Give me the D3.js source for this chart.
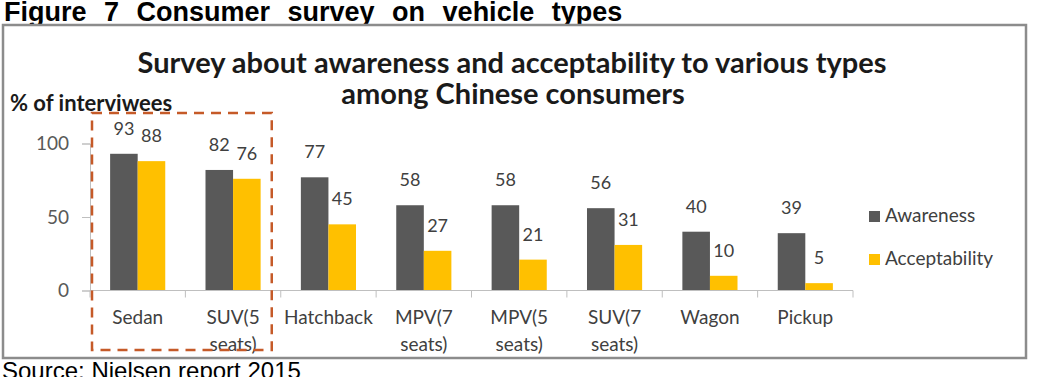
<!DOCTYPE html>
<html>
<head>
<meta charset="utf-8">
<script src="https://cdn.jsdelivr.net/npm/d3@7"></script>
<style>
  body { margin: 0; background: #fff; }
  text { font-family: Lato, "Open Sans", sans-serif; }
</style>
</head>
<body>
<div id="graphic"></div>
<script>
// data
const categories = ["Sedan", "SUV(5 seats)", "Hatchback", "MPV(7 seats)", "MPV(5 seats)", "SUV(7 seats)", "Wagon", "Pickup"];
const awareness = [93, 82, 77, 58, 58, 56, 40, 39];
const acceptability = [88, 76, 45, 27, 21, 31, 10, 5];
const seriesNames = ["Awareness", "Acceptability"];
const yTicks = [0, 50, 100];

const colors = {Awareness: "#595959", Acceptability: "#ffc000"};

const width = 1039, height = 377;

var svg = d3.select("#graphic").append("svg")
        .attr("width", width)
        .attr("height", height);

// figure heading + frame
svg.append("text")
        .attr("x", 4)
        .attr("y", 21)
        .style("font-family", "'Liberation Sans', Arial, sans-serif")
        .style("font-weight", "bold")
        .style("font-size", "27px")
        .style("word-spacing", "10px")
        .text("Figure 7 Consumer survey on vehicle types");

svg.append("rect")
        .attr("x", 3)
        .attr("y", 25)
        .attr("width", 1023)
        .attr("height", 333)
        .style("fill", "white")
        .style("stroke", "#8c8c8c")
        .style("stroke-width", 2.5);

svg.append("text")
        .attr("x", 2)
        .attr("y", 379)
        .style("font-family", "'Liberation Sans', Arial, sans-serif")
        .style("font-size", "24px")
        .text("Source: Nielsen report 2015");

// chart title
var title = svg.append("text")
        .attr("text-anchor", "middle")
        .style("font-weight", "bold")
        .style("font-size", "29px")
        .style("fill", "#1a1a1a");
title.append("tspan").attr("x", 512).attr("y", 73)
        .text("Survey about awareness and acceptability to various types");
title.append("tspan").attr("x", 513).attr("y", 104)
        .text("among Chinese consumers");

svg.append("text")
        .attr("x", 10)
        .attr("y", 111)
        .style("font-weight", "bold")
        .style("font-size", "22px")
        .style("fill", "#1a1a1a")
        .text("% of interviwees");

// scales
var x0 = d3.scaleBand()
        .domain(categories)
        .range([90, 853]);

var x1 = d3.scaleBand()
        .domain(seriesNames)
        .range([0, x0.bandwidth()])
        .paddingOuter(0.73);

var y = d3.scaleLinear()
        .domain([0, 100])
        .range([290.5, 143.5]);

// y axis
var yAxis = svg.append("g")
        .attr("transform", "translate(90,0)")
        .call(d3.axisLeft(y).tickValues(yTicks).tickSize(8).tickPadding(13));
yAxis.select(".domain").attr("stroke", "#bfbfbf");
yAxis.selectAll(".tick line").attr("stroke", "#bfbfbf");
yAxis.selectAll(".tick text")
        .style("font-family", "Lato, sans-serif")
        .style("font-size", "19px")
        .attr("fill", "#595959");

// bars
var rows = categories.map((c, i) => ({cat: c, Awareness: awareness[i], Acceptability: acceptability[i]}));

var groups = svg.append("g").selectAll("g")
        .data(rows)
        .join("g")
        .attr("transform", d => "translate(" + x0(d.cat) + ",0)");

groups.selectAll("rect")
        .data(d => seriesNames.map(k => ({key: k, value: d[k]})))
        .join("rect")
        .attr("x", d => x1(d.key))
        .attr("y", d => y(d.value))
        .attr("width", x1.bandwidth())
        .attr("height", d => y(0) - y(d.value))
        .style("fill", d => colors[d.key]);

groups.selectAll("text")
        .data(d => seriesNames.map(k => ({key: k, value: d[k]})))
        .join("text")
        .attr("x", d => x1(d.key) + x1.bandwidth() / 2)
        .attr("y", d => y(d.value) - 19)
        .attr("text-anchor", "middle")
        .style("font-size", "18px")
        .style("fill", "#404040")
        .text(d => d.value);

// x axis with boundary ticks
var xAxis = svg.append("g").attr("transform", "translate(0," + y(0) + ")");
xAxis.append("line")
        .attr("x1", x0.range()[0])
        .attr("x2", x0.range()[1])
        .style("stroke", "#bfbfbf");
xAxis.selectAll(".bound")
        .data(categories.map(c => x0(c)).concat([x0.range()[1]]))
        .join("line")
        .attr("class", "bound")
        .attr("x1", d => d).attr("x2", d => d)
        .attr("y1", 0).attr("y2", 7)
        .style("stroke", "#bfbfbf");

var labels = xAxis.selectAll(".lbl")
        .data(categories)
        .join("text")
        .attr("class", "lbl")
        .attr("text-anchor", "middle")
        .style("font-size", "19px")
        .style("fill", "#404040");
labels.each(function(c) {
    var parts = c.split(" ");
    d3.select(this).selectAll("tspan")
        .data(parts)
        .join("tspan")
        .attr("x", x0(c) + x0.bandwidth() / 2)
        .attr("y", (d, i) => 33 + i * 27)
        .text(d => d);
});

// legend
var legend = svg.append("g").selectAll("g")
        .data(seriesNames)
        .join("g")
        .attr("transform", (d, i) => "translate(869," + (211 + i * 43) + ")");
legend.append("rect")
        .attr("width", 11)
        .attr("height", 11)
        .style("fill", d => colors[d]);
legend.append("text")
        .attr("x", 16)
        .attr("y", 11)
        .style("font-size", "19px")
        .style("fill", "#404040")
        .text(d => d);

// highlight box around first two categories
svg.append("rect")
        .attr("x", x0(categories[0]) + 2)
        .attr("y", 113)
        .attr("width", x0(categories[1]) + x0.bandwidth() - 9 - x0(categories[0]) - 2)
        .attr("height", 237)
        .style("fill", "none")
        .style("stroke", "#c55a28")
        .style("stroke-width", 2.5)
        .style("stroke-dasharray", "10, 7");
</script>
</body>
</html>
